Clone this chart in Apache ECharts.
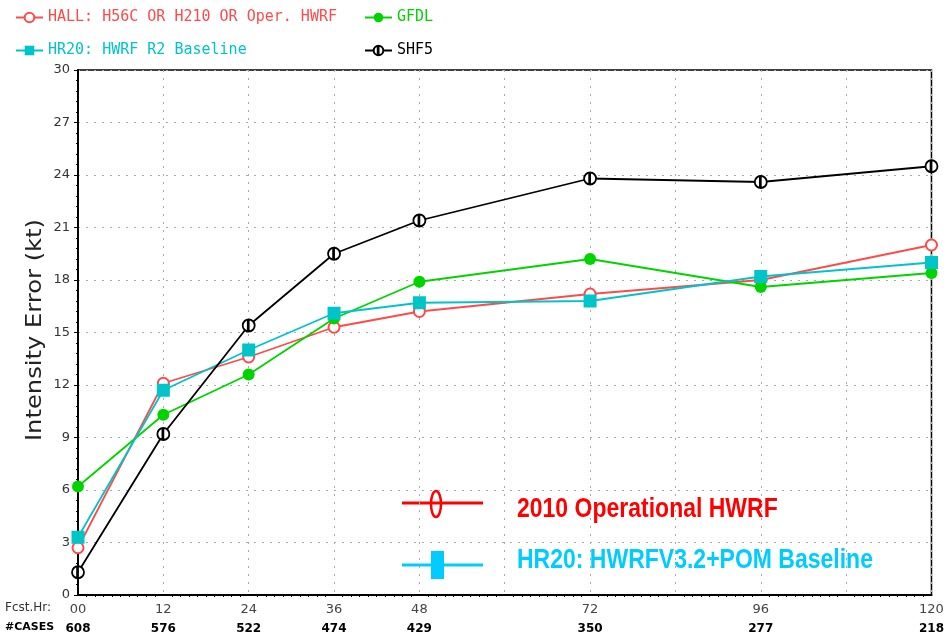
<!DOCTYPE html>
<html>
<head>
<meta charset="utf-8">
<script src="https://cdn.jsdelivr.net/npm/echarts@6/dist/echarts.min.js"></script>
<style>
  html, body { margin: 0; padding: 0; background: #fff; }
  #chart { width: 947px; height: 636px; }
</style>
</head>
<body>
<div id="chart"></div>
<script>
// forecast hours and number of cases
var hours = [0, 12, 24, 36, 48, 72, 96, 120];
var hourLabels = ['00', '12', '24', '36', '48', '72', '96', '120'];
var cases = [608, 576, 522, 474, 429, 350, 277, 218];

// intensity errors (kt)
var hall = [2.7, 12.1, 13.6, 15.3, 16.2, 17.2, 18.0, 20.0];
var hr20 = [3.3, 11.7, 14.0, 16.1, 16.7, 16.8, 18.2, 19.0];
var gfdl = [6.2, 10.3, 12.6, 15.8, 17.9, 19.2, 17.6, 18.4];
var shf5 = [1.3, 9.2, 15.4, 19.5, 21.4, 23.8, 23.6, 24.5];

var names = ['HALL: H56C OR H210 OR Oper. HWRF', 'GFDL', 'HR20: HWRF R2 Baseline', 'SHF5'];

var RED = '#ff4a4a', GREEN = '#00d400', CYAN = '#00c4c8', BLACK = '#000';

function pts(arr) {
  return hours.map(function (h, i) { return [h, arr[i]]; });
}

var legendBase = {
  itemWidth: 27,
  itemHeight: 12,
  selectedMode: false,
  textStyle: { fontFamily: 'DejaVu Sans Mono', fontSize: 15 }
};
function leg(left, top, name, color) {
  return Object.assign({}, legendBase, {
    left: left, top: top,
    data: [{ name: name, textStyle: { color: color } }]
  });
}

var chart = echarts.init(document.getElementById('chart'));
var option = {
  backgroundColor: '#fff',
  animation: false,
  legend: [
    leg(10, 5, names[0], RED),
    leg(359, 5, names[1], GREEN),
    leg(10, 38, names[2], CYAN),
    leg(359, 38, names[3], BLACK)
  ],
  grid: { left: 78, top: 70, width: 855, height: 525, show: true, borderColor: '#000', borderWidth: 1.5 },
  xAxis: {
    type: 'value', min: 0, max: 120, interval: 12,
    axisLine: { lineStyle: { color: '#000', width: 2 } },
    axisTick: { show: false },
    minorTick: { show: true, splitNumber: 10, length: 2, lineStyle: { color: '#000' } },
    splitLine: { lineStyle: { color: '#aaa', type: [2, 6] } },
    axisLabel: {
      margin: 5,
      formatter: function (v) {
        var i = hours.indexOf(v);
        if (i < 0) return '';
        return '{h|' + hourLabels[i] + '}\n{c|' + cases[i] + '}';
      },
      rich: {
        h: { fontFamily: 'DejaVu Sans', fontSize: 13, color: '#444', lineHeight: 19 },
        c: { fontFamily: 'DejaVu Sans', fontSize: 12, fontWeight: 'bold', color: '#000', lineHeight: 19 }
      }
    }
  },
  yAxis: {
    type: 'value', min: 0, max: 30, interval: 3,
    axisLine: { show: true, lineStyle: { color: '#000', width: 2 } },
    axisTick: { show: true, length: 4, lineStyle: { color: '#000' } },
    minorTick: { show: true, splitNumber: 5, length: 2, lineStyle: { color: '#000' } },
    splitLine: { lineStyle: { color: '#aaa', type: [2, 6] } },
    axisLabel: { margin: 8, fontFamily: 'DejaVu Sans', fontSize: 13, color: '#333' }
  },
  series: [
    {
      name: names[0], type: 'line', data: pts(hall),
      symbol: 'emptyCircle', symbolSize: 11,
      lineStyle: { color: RED, width: 1.8 },
      itemStyle: { color: RED, borderWidth: 1.5 }
    },
    {
      name: names[1], type: 'line', data: pts(gfdl),
      symbol: 'circle', symbolSize: 12,
      lineStyle: { color: GREEN, width: 1.8 },
      itemStyle: { color: GREEN }
    },
    {
      name: names[2], type: 'line', data: pts(hr20),
      symbol: 'rect', symbolSize: 13,
      lineStyle: { color: CYAN, width: 1.8 },
      itemStyle: { color: CYAN }
    },
    {
      name: names[3], type: 'line', data: pts(shf5),
      symbol: 'path://M0,10 A10,10 0 1,1 20,10 A10,10 0 1,1 0,10 Z M10,0 L10,20 M8.5,0 L8.5,20',
      symbolSize: 12, symbolKeepAspect: true,
      lineStyle: { color: BLACK, width: 1.8 },
      itemStyle: { color: '#fff', borderColor: BLACK, borderWidth: 1.8 }
    }
  ],
  graphic: [
    // y axis title
    {
      type: 'text', x: 35, y: 330, rotation: Math.PI / 2, scaleX: 1.1,
      style: { text: 'Intensity Error (kt)', font: '22px "DejaVu Sans"', fill: '#222', align: 'center', verticalAlign: 'middle' }
    },
    { type: 'text', x: 5, y: 608, style: { text: 'Fcst.Hr:', font: '12px "DejaVu Sans"', fill: '#333', verticalAlign: 'middle' } },
    { type: 'text', x: 5, y: 627, style: { text: '#CASES', font: 'bold 11px "DejaVu Sans"', fill: '#000', verticalAlign: 'middle' } },
    // annotation key inside the plot
    { type: 'line', shape: { x1: 402, y1: 503, x2: 483, y2: 503 }, style: { stroke: '#ff0000', lineWidth: 3 } },
    { type: 'ellipse', shape: { cx: 436, cy: 504, rx: 5, ry: 13 }, style: { fill: 'none', stroke: '#ff0000', lineWidth: 2.5 } },
    {
      type: 'text', x: 517, y: 509, scaleY: 1.2,
      style: { text: '2010 Operational HWRF', font: 'bold 23px "Liberation Sans"', fill: '#ff0000', verticalAlign: 'middle' }
    },
    { type: 'line', shape: { x1: 402, y1: 565, x2: 483, y2: 565 }, style: { stroke: '#00ccff', lineWidth: 3 } },
    { type: 'rect', shape: { x: 431, y: 551, width: 13, height: 28 }, style: { fill: '#00ccff' } },
    {
      type: 'text', x: 517, y: 560, scaleY: 1.2,
      style: { text: 'HR20: HWRFV3.2+POM Baseline', font: 'bold 23px "Liberation Sans"', fill: '#00ccff', verticalAlign: 'middle' }
    }
  ]
};
chart.setOption(option);
</script>
</body>
</html>
